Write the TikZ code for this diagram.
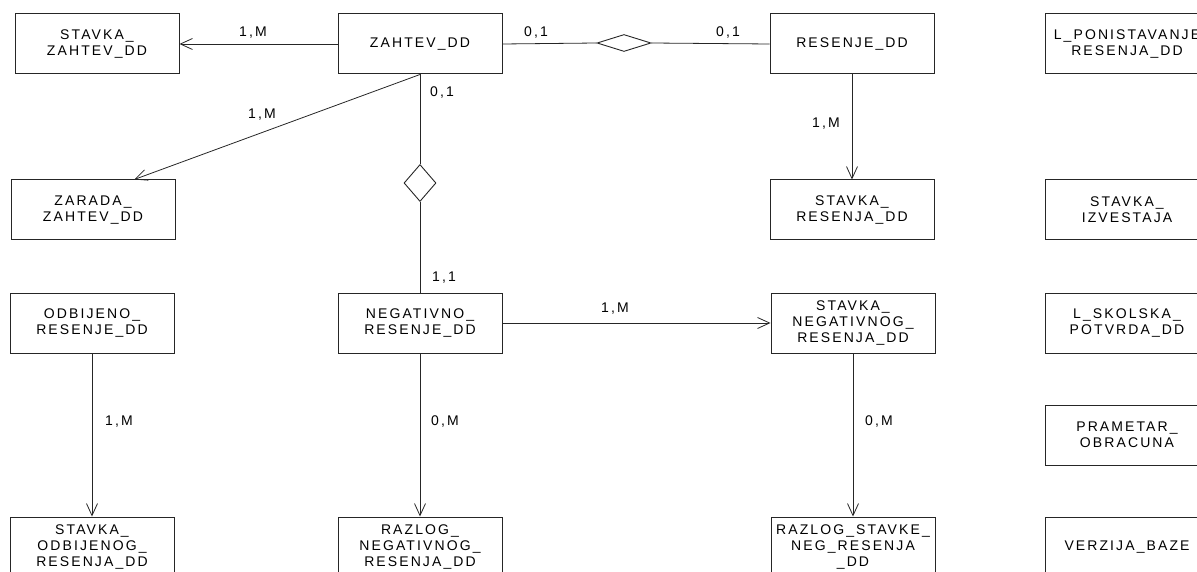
\documentclass[tikz,border=0pt]{standalone}
\usepackage{fontspec}
\setmainfont{Liberation Sans}[LetterSpace=15]
\usetikzlibrary{shapes.geometric,arrows.meta,calc}
\begin{document}
\begin{tikzpicture}[x=1pt,y=-1pt,
 ent/.style={draw=black!85, line width=1pt, minimum width=164pt, minimum height=60pt, inner sep=0pt, align=center, font=\fontsize{14}{16}\selectfont},
 rel/.style={draw=black!85, line width=0.8pt},
 card/.style={font=\fontsize{14}{16}\selectfont, inner sep=0pt},
 arr/.style={rel, -{Straight Barb[length=12pt,width=11pt]}},
 dia/.style={diamond, draw=black!85, line width=0.9pt, inner sep=0pt}]
\useasboundingbox (0,0) rectangle (1197,572);
\clip (0,0) rectangle (1197,572);
% entities
\node[ent] (sz) at (97,44) {STAVKA\_\\ZAHTEV\_DD};
\node[ent] (z) at (420,44) {ZAHTEV\_DD};
\node[ent] (r) at (852,44) {RESENJE\_DD};
\node[ent] (lp) at (1127,44) {L\_PONISTAVANJE\\RESENJA\_DD};
\node[ent] (zz) at (93,210) {ZARADA\_\\ZAHTEV\_DD};
\node[ent] (sr) at (852,210) {STAVKA\_\\RESENJA\_DD};
\node[ent] (si) at (1127,210) {STAVKA\_\\IZVESTAJA};
\node[ent] (o) at (92,323) {ODBIJENO\_\\RESENJE\_DD};
\node[ent] (n) at (420,323) {NEGATIVNO\_\\RESENJE\_DD};
\node[ent] (sn) at (853,323) {STAVKA\_\\NEGATIVNOG\_\\RESENJA\_DD};
\node[ent] (ls) at (1127,323) {L\_SKOLSKA\_\\POTVRDA\_DD};
\node[ent] (po) at (1127,435) {PRAMETAR\_\\OBRACUNA};
\node[ent] (so) at (92,547) {STAVKA\_\\ODBIJENOG\_\\RESENJA\_DD};
\node[ent] (rn) at (420,547) {RAZLOG\_\\NEGATIVNOG\_\\RESENJA\_DD};
\node[ent] (rs) at (853,547) {RAZLOG\_STAVKE\_\\NEG\_RESENJA\\\_DD};
\node[ent] (vb) at (1127,547) {VERZIJA\_BAZE};
% relationship diamonds
\node[dia, minimum width=54pt, minimum height=17pt] (d1) at (624,43) {};
\node[dia, minimum width=32pt, minimum height=37pt] (d2) at (420,183) {};
\coordinate (zzt) at ($(zz.north west)!0.75!(zz.north east)$);
% connectors
\draw[arr] (z.west) -- (sz.east);
\draw[rel] (z.east) -- (d1.west);
\draw[rel] (d1.east) -- (r.west);
\draw[arr] (z.south) -- (zzt);
\draw[rel] (z.south) -- (d2.north);
\draw[rel] (d2.south) -- (n.north);
\draw[arr] (r.south) -- (sr.north);
\draw[arr] (n.east) -- (sn.west);
\draw[arr] (o.south) -- (so.north);
\draw[arr] (n.south) -- (rn.north);
\draw[arr] (sn.south) -- (rs.north);
% cardinalities
\node[card] (l1) at (253,33) {1,M};
\node[card] (l2) at (536,33) {0,1};
\node[card] (l3) at (728,33) {0,1};
\node[card] (l4) at (262,115) {1,M};
\node[card] (l5) at (442,93) {0,1};
\node[card] (l6) at (826,124) {1,M};
\node[card] (l7) at (444,278) {1,1};
\node[card] (l8) at (615,309) {1,M};
\node[card] (l9) at (119,422) {1,M};
\node[card] (l10) at (445,422) {0,M};
\node[card] (l11) at (879,422) {0,M};
\end{tikzpicture}
\end{document}
